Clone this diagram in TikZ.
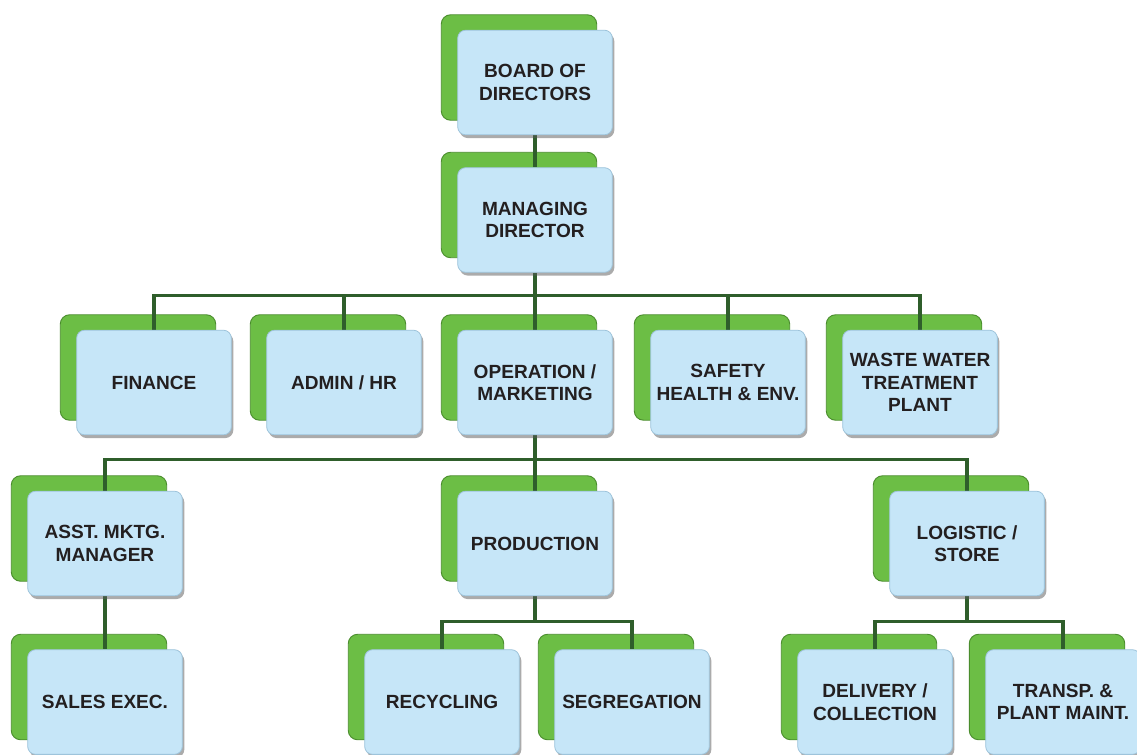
\documentclass[tikz,border=0pt]{standalone}
\usepackage{fontspec}
\setmainfont{Liberation Sans}
\usetikzlibrary{shadows}
\definecolor{boxblue}{HTML}{C6E6F8}
\definecolor{boxblueedge}{HTML}{9EC4DB}
\definecolor{boxgreen}{HTML}{6CBE45}
\definecolor{boxgreenedge}{HTML}{4A8D2D}
\definecolor{connector}{HTML}{2F5E2B}
\definecolor{labeltext}{HTML}{231F20}
\pgfdeclarelayer{bglayer}
\pgfdeclarelayer{greenlayer}
\pgfdeclarelayer{linelayer}
\pgfsetlayers{bglayer,greenlayer,linelayer,main}
\tikzset{
  bluebox/.style={rectangle, rounded corners=6pt, fill=boxblue, draw=boxblueedge, line width=0.6pt,
    minimum width=116pt, minimum height=78.5pt, inner sep=2pt, align=center,
    text=labeltext, font=\bfseries\fontsize{14.3}{16.8}\selectfont,
    drop shadow={shadow xshift=1.5pt, shadow yshift=-2.4pt, fill=black!65, opacity=0.5}},
  greenbox/.style={fill=boxgreen, draw=boxgreenedge, line width=0.7pt, rounded corners=7pt},
  conn/.style={draw=connector, line width=2.5pt}
}
\newcommand\orgbox[3]{%
  \node[bluebox] (#1) at (#2) {#3};
  \begin{pgfonlayer}{greenlayer}
    \draw[greenbox] ([shift={(-16,-15)}]#1.north west) rectangle ([shift={(-16,-15)}]#1.south east);
  \end{pgfonlayer}}
\begin{document}
\begin{tikzpicture}[x=0.75pt,y=-0.75pt]
\begin{pgfonlayer}{bglayer}
\fill[white] (0,0) rectangle (1137,754);
\end{pgfonlayer}
\useasboundingbox (0,0) rectangle (1137,754);
% level 0/1
\orgbox{bod}{535,82.5}{BOARD OF\\DIRECTORS}
\orgbox{md}{535,220}{MANAGING\\DIRECTOR}
% level 2
\orgbox{fin}{154,382.5}{FINANCE}
\orgbox{adm}{344,382.5}{ADMIN / HR}
\orgbox{ops}{535,382.5}{OPERATION /\\MARKETING}
\orgbox{she}{728,382.5}{SAFETY\\HEALTH \& ENV.}
\orgbox{wwt}{920,382.5}{WASTE WATER\\TREATMENT\\PLANT}
% level 3
\orgbox{amm}{105,543.5}{ASST. MKTG.\\MANAGER}
\orgbox{prd}{535,543.5}{PRODUCTION}
\orgbox{log}{967,543.5}{LOGISTIC /\\STORE}
% level 4
\orgbox{sal}{105,702}{SALES EXEC.}
\orgbox{rec}{442,702}{RECYCLING}
\orgbox{seg}{632,702}{SEGREGATION}
\orgbox{del}{875,702}{DELIVERY /\\COLLECTION}
\orgbox{trn}{1063,702}{TRANSP. \&\\PLANT MAINT.}
% connectors
\begin{pgfonlayer}{linelayer}
\draw[conn] (bod.south) -- (md.north);
\draw[conn] (md.south) -- ++(0,23) coordinate (busA);
\foreach \c in {fin,adm,ops,she,wwt} \draw[conn] (busA) -| (\c.north);
\draw[conn] (ops.south) -- ++(0,24) coordinate (busB);
\foreach \c in {amm,prd,log} \draw[conn] (busB) -| (\c.north);
\draw[conn] (amm.south) -- (sal.north);
\draw[conn] (prd.south) -- ++(0,25) coordinate (busC);
\foreach \c in {rec,seg} \draw[conn] (busC) -| (\c.north);
\draw[conn] (log.south) -- ++(0,25) coordinate (busD);
\foreach \c in {del,trn} \draw[conn] (busD) -| (\c.north);
\end{pgfonlayer}
\end{tikzpicture}
\end{document}
